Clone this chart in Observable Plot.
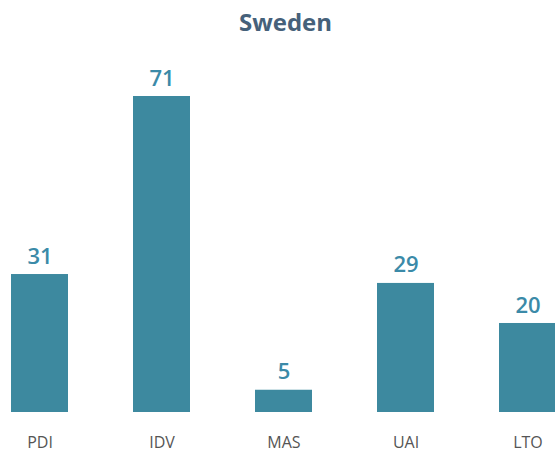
<!DOCTYPE html>
<html>
<head>
<meta charset="utf-8">
<script src="https://cdn.jsdelivr.net/npm/d3@7"></script>
<script src="https://cdn.jsdelivr.net/npm/@observablehq/plot@0.6"></script>
<style>
  html, body { margin: 0; padding: 0; background: #fff; }
  #title { height: 50px; box-sizing: border-box; padding-top: 5px; padding-left: 16px; text-align: center;
           font-family: "Open Sans", sans-serif; font-weight: bold; font-size: 24px; color: #46617a; }
  svg { display: block; }
</style>
</head>
<body>
<div id="title">Sweden</div>
<div id="chart"></div>
<script>
const dimensions = ["PDI", "IDV", "MAS", "UAI", "LTO"];
const scores = [31, 71, 5, 29, 20];

const data = dimensions.map((d, i) => ({dim: d, value: scores[i]}));

const chart = Plot.plot({
  width: 555,
  height: 402,
  marginLeft: 0,
  marginRight: 0,
  marginTop: 40,
  marginBottom: 40,
  style: {fontFamily: "Open Sans, sans-serif", background: "white", overflow: "visible"},
  x: {domain: dimensions, range: [11, 556], paddingInner: 0.533, paddingOuter: 0, align: 0, label: null},
  y: {domain: [0, 71], range: [362, 46], axis: null},
  marks: [
    Plot.barY(data, {x: "dim", y: "value", fill: "#3d899f"}),
    Plot.text(data, {x: "dim", y: "value", text: d => String(d.value), dy: -18, fill: "#3b8aa8", fontSize: 22, fontWeight: 600}),
    Plot.axisX({tickSize: 0, tickPadding: 24, fontSize: 16, color: "#555", label: null})
  ]
});
document.getElementById("chart").appendChild(chart);
</script>
</body>
</html>
